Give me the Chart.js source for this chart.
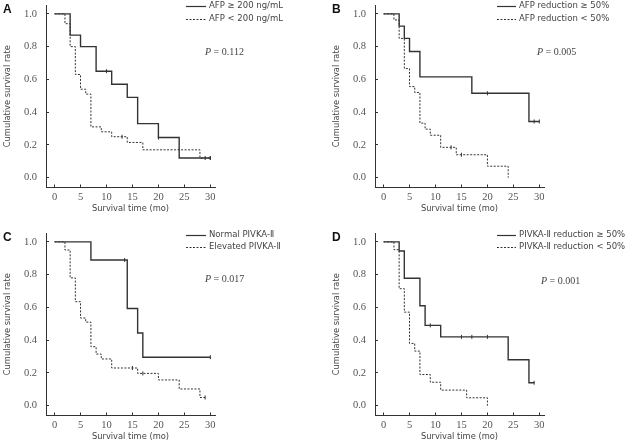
<!DOCTYPE html>
<html>
<head>
<meta charset="utf-8">
<script src="https://cdn.jsdelivr.net/npm/chart.js@4.4.0/dist/chart.umd.min.js"></script>
<style>
  body { margin: 0; width: 630px; height: 443px; overflow: hidden; background: #fff; position: relative; }
  .panel { position: absolute; width: 301px; height: 220px; }
</style>
</head>
<body>

<div class="panel" style="left:0;top:0"><canvas id="chartA"></canvas></div>
<div class="panel" style="left:329px;top:0"><canvas id="chartB"></canvas></div>
<div class="panel" style="left:0;top:228px"><canvas id="chartC"></canvas></div>
<div class="panel" style="left:329px;top:228px"><canvas id="chartD"></canvas></div>

<script>
// shared ticks
const xTicks = [0, 5, 10, 15, 20, 25, 30];
const yTicks = [0, 0.2, 0.4, 0.6, 0.8, 1.0];

// A - AFP level
const aHighTime = [0, 3, 5, 8, 11, 14, 16, 20, 24, 30];
const aHighSurv = [1, 0.87, 0.80, 0.65, 0.57, 0.49, 0.33, 0.245, 0.12, 0.12];
const aHighCens = [10, 20, 30];
const aLowTime = [0, 2, 3, 4, 5, 6, 7, 9, 11, 14, 17, 28, 30];
const aLowSurv = [1, 0.94, 0.80, 0.63, 0.54, 0.51, 0.31, 0.28, 0.25, 0.215, 0.17, 0.12, 0.12];
const aLowCens = [13, 29, 30];

// B - AFP reduction
const bHighTime = [0, 3, 4, 5, 7, 17, 28, 30];
const bHighSurv = [1, 0.925, 0.85, 0.77, 0.615, 0.515, 0.343, 0.343];
const bHighCens = [20, 29, 30];
const bLowTime = [0, 2, 3, 4, 5, 6, 7, 8, 9, 11, 14, 20, 24];
const bLowSurv = [1, 0.963, 0.85, 0.666, 0.556, 0.52, 0.333, 0.296, 0.259, 0.185, 0.14, 0.07, 0];
const bLowCens = [13, 15];

// C - PIVKA-II level
const cNormTime = [0, 7, 14, 16, 17, 30];
const cNormSurv = [1, 0.889, 0.593, 0.444, 0.296, 0.296];
const cNormCens = [13.5, 30];
const cElevTime = [0, 2, 3, 4, 5, 6, 7, 8, 9, 11, 16, 20, 24, 28, 29];
const cElevSurv = [1, 0.95, 0.78, 0.635, 0.535, 0.51, 0.36, 0.315, 0.285, 0.23, 0.197, 0.157, 0.102, 0.05, 0.05];
const cElevCens = [15, 17, 29];

// D - PIVKA-II reduction
const dHighTime = [0, 3, 4, 7, 8, 11, 24, 28, 29];
const dHighSurv = [1, 0.944, 0.778, 0.61, 0.49, 0.42, 0.28, 0.14, 0.14];
const dHighCens = [9, 15, 17, 20, 29];
const dLowTime = [0, 2, 3, 4, 5, 6, 7, 9, 11, 16, 20];
const dLowSurv = [1, 0.952, 0.714, 0.571, 0.38, 0.333, 0.19, 0.143, 0.095, 0.048, 0];
const dLowCens = [];

const ink = '#333';
const tickFont = { family: '"Liberation Serif", serif', size: 10.5 };
const titleFont = { family: '"DejaVu Sans", sans-serif', size: 8.3 };

function points(t, s) {
    return t.map(function (v, i) { return { x: v, y: s[i] }; });
}

// survival value at time of each censored case
function censorPoints(cens, t, s) {
    return cens.map(function (c) {
        let y = s[0];
        for (let i = 0; i < t.length; i++) { if (t[i] <= c) y = s[i]; }
        return { x: c, y: y };
    });
}

// letter, legend and P value
const panelText = {
    id: 'panelText',
    afterDraw(chart, args, o) {
        const ctx = chart.ctx;
        ctx.save();
        ctx.fillStyle = '#111';
        ctx.textBaseline = 'middle';
        ctx.font = 'bold 12px "Liberation Sans", sans-serif';
        ctx.fillText(o.letter, 3, 10);

        ctx.font = '8.5px "DejaVu Sans", sans-serif';
        ctx.fillStyle = '#444';
        ctx.strokeStyle = ink;
        o.labels.forEach(function (lab, i) {
            const y = o.rows[i];
            ctx.beginPath();
            ctx.lineWidth = i === 0 ? 1.2 : 1;
            ctx.setLineDash(i === 0 ? [] : [2, 1.5]);
            ctx.moveTo(o.lineX[0], y + 0.5);
            ctx.lineTo(o.lineX[1], y + 0.5);
            ctx.stroke();
            ctx.fillText(lab, o.textX, y);
        });
        ctx.setLineDash([]);

        ctx.font = 'italic 10px "Liberation Serif", serif';
        ctx.fillText('P', o.pX, o.pY);
        const w = ctx.measureText('P').width;
        ctx.font = '10px "Liberation Serif", serif';
        ctx.fillText(' = ' + o.p, o.pX + w, o.pY);
        ctx.restore();
    }
};

function makeChart(id, p) {
    new Chart(document.getElementById(id), {
        type: 'line',
        data: {
            datasets: [
                { data: points(p.t1, p.s1), stepped: 'before', borderColor: ink, borderWidth: 1.4, pointRadius: 0, fill: false },
                { data: points(p.t2, p.s2), stepped: 'before', borderColor: ink, borderWidth: 1, borderDash: [2, 1.5], pointRadius: 0, fill: false },
                { data: censorPoints(p.c1, p.t1, p.s1), showLine: false, pointStyle: 'line', pointRotation: 90, pointRadius: 2, pointBorderWidth: 1, pointBorderColor: ink },
                { data: censorPoints(p.c2, p.t2, p.s2), showLine: false, pointStyle: 'line', pointRotation: 90, pointRadius: 2, pointBorderWidth: 1, pointBorderColor: ink }
            ]
        },
        options: {
            responsive: true,
            maintainAspectRatio: false,
            animation: false,
            events: [],
            layout: { padding: { left: 0, right: 86, top: 2, bottom: 0 } },
            plugins: {
                legend: { display: false },
                tooltip: { enabled: false },
                panelText: p.text
            },
            scales: {
                x: {
                    type: 'linear', min: -1.65, max: 30.9,
                    afterBuildTicks: function (s) { s.ticks = xTicks.map(function (v) { return { value: v }; }); },
                    afterFit: function (s) { s.height = 32.5; s.paddingLeft = 0; s.paddingRight = 0; },
                    grid: { display: true, drawOnChartArea: false, tickLength: -3, color: ink },
                    border: { display: true, color: ink, width: 1 },
                    ticks: { font: tickFont, color: '#555', padding: 6, maxRotation: 0, autoSkip: false },
                    title: { display: true, text: 'Survival time (mo)', font: titleFont, color: '#444', padding: { top: 0, bottom: 6 } }
                },
                y: {
                    type: 'linear', min: -0.06, max: 1.054,
                    afterBuildTicks: function (s) { s.ticks = yTicks.map(function (v) { return { value: v }; }); },
                    afterFit: function (s) { s.width = 46; s.paddingTop = 0; s.paddingBottom = 0; },
                    grid: { display: true, drawOnChartArea: false, tickLength: -3, color: ink },
                    border: { display: true, color: ink, width: 1 },
                    ticks: { font: tickFont, color: '#555', padding: 12, callback: function (v) { return v.toFixed(1); } },
                    title: { display: true, text: 'Cumulative survival rate', font: titleFont, color: '#444', padding: { top: 3, bottom: 0 } }
                }
            }
        },
        plugins: [panelText]
    });
}

makeChart('chartA', {
    t1: aHighTime, s1: aHighSurv, c1: aHighCens, t2: aLowTime, s2: aLowSurv, c2: aLowCens,
    text: { letter: 'A', labels: ['AFP \u2265 200 ng/mL', 'AFP < 200 ng/mL'], rows: [6, 19], lineX: [186, 206], textX: 209, p: '0.112', pX: 205, pY: 52 }
});
makeChart('chartB', {
    t1: bHighTime, s1: bHighSurv, c1: bHighCens, t2: bLowTime, s2: bLowSurv, c2: bLowCens,
    text: { letter: 'B', labels: ['AFP reduction \u2265 50%', 'AFP reduction < 50%'], rows: [6, 19], lineX: [168, 187], textX: 190, p: '0.005', pX: 208, pY: 52 }
});
makeChart('chartC', {
    t1: cNormTime, s1: cNormSurv, c1: cNormCens, t2: cElevTime, s2: cElevSurv, c2: cElevCens,
    text: { letter: 'C', labels: ['Normal PIVKA-\u2161', 'Elevated PIVKA-\u2161'], rows: [7, 19], lineX: [186, 206], textX: 209, p: '0.017', pX: 205, pY: 51 }
});
makeChart('chartD', {
    t1: dHighTime, s1: dHighSurv, c1: dHighCens, t2: dLowTime, s2: dLowSurv, c2: dLowCens,
    text: { letter: 'D', labels: ['PIVKA-\u2161 reduction \u2265 50%', 'PIVKA-\u2161 reduction < 50%'], rows: [7, 19], lineX: [168, 187], textX: 190, p: '0.001', pX: 212, pY: 53 }
});
</script>

</body>
</html>
